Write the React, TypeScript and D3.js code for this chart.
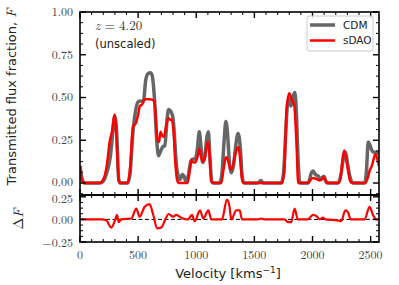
import React, { useEffect, useRef } from "react";
import * as d3 from "d3";

// velocity [km/s] and transmitted flux
const cdmV = [0, 20, 40, 170, 200, 230, 260, 280, 298, 315, 333, 345, 410, 430, 456, 480, 500, 520, 545, 565, 585, 605, 620, 640, 660, 675, 690, 710, 730, 750, 762, 780, 800, 815, 830, 845, 860, 880, 895, 910, 930, 955, 975, 990, 1010, 1026, 1040, 1055, 1075, 1090, 1104, 1118, 1132, 1145, 1200, 1220, 1240, 1255, 1270, 1285, 1300, 1320, 1340, 1360, 1380, 1395, 1410, 1530, 1555, 1575, 1730, 1750, 1770, 1785, 1800, 1815, 1830, 1849, 1862, 1875, 1892, 1960, 1975, 1990, 2006, 2025, 2050, 2065, 2080, 2098, 2115, 2130, 2220, 2245, 2265, 2285, 2300, 2315, 2335, 2350, 2450, 2465, 2479, 2495, 2508, 2530, 2550, 2570];
const cdmF = [0.1, 0.02, 0, 0, 0.01, 0.06, 0.15, 0.28, 0.39, 0.3, 0.02, 0, 0, 0.05, 0.3, 0.43, 0.475, 0.48, 0.475, 0.6, 0.64, 0.645, 0.63, 0.5, 0.25, 0.16, 0.18, 0.21, 0.22, 0.38, 0.43, 0.42, 0.38, 0.25, 0.1, 0.04, 0.02, 0.05, 0.04, 0.01, 0.04, 0.13, 0.14, 0.14, 0.2, 0.3, 0.22, 0.12, 0.16, 0.26, 0.3, 0.15, 0.01, 0, 0, 0.05, 0.25, 0.36, 0.28, 0.12, 0.06, 0.1, 0.22, 0.29, 0.2, 0.04, 0, 0, 0.015, 0, 0, 0.05, 0.3, 0.46, 0.49, 0.45, 0.5, 0.53, 0.4, 0.15, 0, 0, 0.02, 0.06, 0.07, 0.05, 0.04, 0.02, 0.03, 0.04, 0.01, 0, 0, 0.05, 0.14, 0.18, 0.12, 0.06, 0.01, 0, 0, 0.08, 0.24, 0.22, 0.195, 0.18, 0.18, 0.17];

const sdaoV = [0, 20, 40, 170, 200, 230, 255, 275, 298, 315, 333, 345, 410, 430, 456, 480, 500, 515, 535, 555, 600, 640, 655, 665, 680, 693, 705, 722, 740, 760, 775, 790, 805, 820, 835, 850, 925, 945, 960, 975, 990, 1010, 1026, 1040, 1055, 1075, 1090, 1104, 1118, 1132, 1145, 1215, 1235, 1255, 1275, 1295, 1310, 1330, 1350, 1365, 1380, 1395, 1410, 1740, 1760, 1777, 1800, 1820, 1843, 1863, 1877, 1963, 1985, 2006, 2030, 2060, 2080, 2098, 2115, 2125, 2225, 2245, 2260, 2273, 2290, 2307, 2325, 2342, 2455, 2475, 2493, 2510, 2522, 2542, 2565, 2572];
const sdaoF = [0.1, 0.01, 0, 0, 0.02, 0.1, 0.24, 0.3, 0.4, 0.25, 0.02, 0, 0, 0.08, 0.33, 0.35, 0.4, 0.45, 0.46, 0.49, 0.49, 0.48, 0.35, 0.26, 0.24, 0.3, 0.28, 0.27, 0.33, 0.38, 0.37, 0.37, 0.3, 0.12, 0.02, 0, 0, 0.08, 0.135, 0.12, 0.12, 0.15, 0.2, 0.16, 0.125, 0.15, 0.22, 0.24, 0.12, 0.01, 0, 0, 0.08, 0.15, 0.13, 0.08, 0.09, 0.15, 0.2, 0.21, 0.12, 0.02, 0, 0, 0.1, 0.43, 0.525, 0.49, 0.455, 0.22, 0, 0, 0.02, 0.03, 0.025, 0.015, 0.02, 0.035, 0.01, 0, 0, 0.05, 0.15, 0.19, 0.14, 0.07, 0.01, 0, 0, 0.03, 0.075, 0.1, 0.13, 0.17, 0.12, 0.1];

// residual panel, Delta F = F_CDM - F_sDAO
const dV = [0, 183, 226, 269, 304, 318, 333, 355, 441, 484, 513, 556, 599, 628, 665, 699, 734, 762, 800, 828, 857, 886, 929, 963, 986, 1032, 1061, 1104, 1129, 1221, 1264, 1285, 1301, 1345, 1374, 1393, 1530, 1559, 1590, 1760, 1788, 1817, 1846, 1874, 1960, 2004, 2035, 2061, 2089, 2110, 2215, 2247, 2282, 2305, 2328, 2448, 2491, 2520, 2548, 2572];
const dF = [0, 0, -0.01, -0.09, 0, 0.05, -0.03, 0, 0.01, 0.12, 0.03, 0.14, 0.17, 0.06, -0.1, -0.09, 0, 0.06, 0.03, 0.05, 0.03, 0.01, 0, 0.05, -0.02, 0.1, 0.01, 0.1, 0, 0, 0.22, 0.15, 0, 0.1, 0.1, 0, 0, 0.01, 0, 0, -0.03, -0.03, 0.12, 0, 0, 0.05, 0.035, 0, 0.02, 0, -0.01, -0.02, 0.1, 0.08, 0, 0, 0.14, 0.05, 0, 0];

const xTicks = [0, 500, 1000, 1500, 2000, 2500];
const topTicks = [0, 0.25, 0.5, 0.75, 1.0];
const botTicks = [-0.25, 0, 0.25];

const legendNames = ["CDM", "sDAO"];
const colors = ["#666666", "#ff0000"];

export default function App() {
  const ref = useRef<SVGSVGElement>(null);

  useEffect(() => {
    const svg = d3.select(ref.current);
    svg.selectAll("*").remove();

    const width = 399,
      height = 285;
    svg.attr("width", width).attr("height", height);

    const x = d3.scaleLinear().domain([0, 2572]).range([80, 379]);
    const yTop = d3.scaleLinear().domain([-0.07, 1.0]).range([195, 12]);
    const yBot = d3.scaleLinear().domain([-0.25, 0.27]).range([242, 195]);

    const serif = "'Latin Modern Roman', 'CMU Serif', 'Liberation Serif', serif";
    const sans = "'DejaVu Sans', 'Noto Sans', sans-serif";

    const defs = svg.append("defs");
    defs.append("clipPath").attr("id", "clipTop").append("rect")
      .attr("x", 80).attr("y", 12).attr("width", 299).attr("height", 183);
    defs.append("clipPath").attr("id", "clipBot").append("rect")
      .attr("x", 80).attr("y", 195).attr("width", 299).attr("height", 47);

    const pairs = (vs: number[], fs: number[]) => vs.map((v, i) => [v, fs[i]] as [number, number]);

    const lineTop = d3.line<[number, number]>()
      .x((d) => x(d[0])).y((d) => yTop(d[1])).curve(d3.curveMonotoneX);
    const lineBot = d3.line<[number, number]>()
      .x((d) => x(d[0])).y((d) => yBot(d[1])).curve(d3.curveMonotoneX);

    const gTop = svg.append("g").attr("clip-path", "url(#clipTop)");
    gTop.append("path").attr("d", lineTop(pairs(cdmV, cdmF)))
      .attr("fill", "none").attr("stroke", colors[0]).attr("stroke-width", 3.5)
      .attr("stroke-linejoin", "round");
    gTop.append("path").attr("d", lineTop(pairs(sdaoV, sdaoF)))
      .attr("fill", "none").attr("stroke", colors[1]).attr("stroke-width", 2.5)
      .attr("stroke-linejoin", "round");

    const gBot = svg.append("g").attr("clip-path", "url(#clipBot)");
    gBot.append("line")
      .attr("x1", 80).attr("x2", 379).attr("y1", yBot(0)).attr("y2", yBot(0))
      .attr("stroke", "#000").attr("stroke-width", 1).attr("stroke-dasharray", "4,2.5");
    gBot.append("path").attr("d", lineBot(pairs(dV, dF)))
      .attr("fill", "none").attr("stroke", colors[1]).attr("stroke-width", 2.2)
      .attr("stroke-linejoin", "round");

    // ticks, pointing inward on all sides
    const ticks = svg.append("g").attr("stroke", "#000");
    const xMinor = d3.range(0, 2572, 100);
    const panels = [
      { y: yTop, top: 12, bot: 195, major: topTicks, minor: d3.range(-0.0625, 1.0001, 0.0625) },
      { y: yBot, top: 195, bot: 242, major: botTicks, minor: d3.range(-0.25, 0.27, 0.0625) },
    ];
    panels.forEach((p) => {
      xMinor.forEach((v) => {
        const len = v % 500 === 0 ? 6 : 3;
        const w = v % 500 === 0 ? 1.4 : 1;
        ticks.append("line").attr("x1", x(v)).attr("x2", x(v))
          .attr("y1", p.bot).attr("y2", p.bot - len).attr("stroke-width", w);
        ticks.append("line").attr("x1", x(v)).attr("x2", x(v))
          .attr("y1", p.top).attr("y2", p.top + len).attr("stroke-width", w);
      });
      p.minor.forEach((f) => {
        const isMajor = p.major.some((m) => Math.abs(m - f) < 1e-6);
        const len = isMajor ? 6 : 3;
        const w = isMajor ? 1.4 : 1;
        ticks.append("line").attr("x1", 80).attr("x2", 80 + len)
          .attr("y1", p.y(f)).attr("y2", p.y(f)).attr("stroke-width", w);
        ticks.append("line").attr("x1", 379).attr("x2", 379 - len)
          .attr("y1", p.y(f)).attr("y2", p.y(f)).attr("stroke-width", w);
      });
      svg.append("rect").attr("x", 80).attr("y", p.top)
        .attr("width", 299).attr("height", p.bot - p.top)
        .attr("fill", "none").attr("stroke", "#000").attr("stroke-width", 1.6);
    });

    // tick labels
    const lab = svg.append("g").attr("font-family", serif).attr("font-size", 12).attr("fill", "#444");
    topTicks.forEach((f) => {
      lab.append("text").attr("x", 73).attr("y", yTop(f) - (f === 0 ? 1 : 0)).attr("dy", "0.33em")
        .attr("text-anchor", "end").text(f.toFixed(2));
    });
    botTicks.forEach((f) => {
      lab.append("text").attr("x", 73).attr("y", yBot(f) + (f > 0 ? 2 : 1)).attr("dy", "0.33em")
        .attr("text-anchor", "end").text(f < 0 ? "\u2212" + (-f).toFixed(2) : f.toFixed(2));
    });
    xTicks.forEach((v) => {
      lab.append("text").attr("x", x(v)).attr("y", 259)
        .attr("text-anchor", "middle").text(String(v));
    });

    // axis labels
    const yl = svg.append("text").attr("transform", "translate(16,97) rotate(-90)")
      .attr("text-anchor", "middle").attr("font-family", sans).attr("font-size", 13).attr("fill", "#222");
    yl.append("tspan").text("Transmitted flux fraction, ");
    yl.append("tspan").attr("font-family", serif).attr("font-style", "italic").attr("font-size", 14).text("F");

    const dl = svg.append("text").attr("transform", "translate(23,219) rotate(-90)")
      .attr("text-anchor", "middle").attr("font-family", serif).attr("font-size", 14).attr("fill", "#222");
    dl.append("tspan").text("\u0394");
    dl.append("tspan").attr("font-style", "italic").text("F");

    const xl = svg.append("text").attr("x", 228).attr("y", 278)
      .attr("text-anchor", "middle").attr("font-family", sans).attr("font-size", 13).attr("fill", "#222");
    xl.append("tspan").text("Velocity [kms");
    xl.append("tspan").attr("font-size", 9).attr("dy", -5).text("\u22121");
    xl.append("tspan").attr("dy", 5).text("]");

    // annotations
    const zt = svg.append("text").attr("x", 95).attr("y", 30)
      .attr("font-family", serif).attr("font-size", 13).attr("fill", "#333");
    zt.append("tspan").attr("font-style", "italic").text("z");
    zt.append("tspan").text(" = 4.20");
    svg.append("text").attr("x", 95).attr("y", 48).attr("font-family", sans)
      .attr("font-size", 11.5).attr("fill", "#222").text("(unscaled)");

    // legend
    const lg = svg.append("g");
    lg.append("rect").attr("x", 307).attr("y", 16).attr("width", 66).attr("height", 35)
      .attr("rx", 2).attr("fill", "#fff").attr("fill-opacity", 0.8)
      .attr("stroke", "#ccc").attr("stroke-width", 1);
    legendNames.forEach((name, i) => {
      const yy = 25 + i * 15.5;
      lg.append("line").attr("x1", 310).attr("x2", 335).attr("y1", yy).attr("y2", yy)
        .attr("stroke", colors[i]).attr("stroke-width", i === 0 ? 3.5 : 2.5);
      lg.append("text").attr("x", 343).attr("y", yy).attr("dy", "0.35em")
        .attr("font-family", sans).attr("font-size", 10.5).attr("fill", "#222").text(name);
    });
  }, []);

  return (
    <div style={{ position: "absolute", left: 0, top: 0 }}>
      <svg ref={ref}></svg>
    </div>
  );
}
